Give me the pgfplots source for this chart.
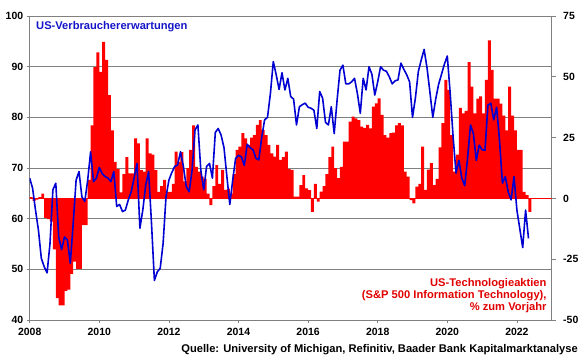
\documentclass[border=0pt]{standalone}
\usepackage{fontspec}
\setmainfont{Liberation Sans}
\usepackage{pgfplots}
\usepackage{pgfplotstable}
\pgfplotsset{compat=1.18}
\definecolor{lineblue}{RGB}{0,0,210}
\definecolor{titleblue}{RGB}{20,20,200}
\definecolor{barred}{RGB}{255,0,0}
\definecolor{txtred}{RGB}{225,0,0}
\definecolor{gridgray}{RGB}{128,128,128}

\pgfplotstableread{
m v
0 68
1 66
2 61.7
3 57.8
4 52.2
5 50.5
6 49.3
7 55.1
8 65.7
9 67
10 56.4
11 53.9
12 56.4
13 55.8
14 51.2
15 59.1
16 67.6
17 69.3
18 64.3
19 63.4
20 67.6
21 73.2
22 67.3
23 68
24 70.1
25 68.9
26 68.3
27 68
28 67.3
29 69.3
30 62.4
31 62.8
32 61.4
33 61.7
34 63.7
35 65.3
36 68
37 70.9
38 58.1
39 61.7
40 66.6
41 69.3
42 59.1
43 47.8
44 49.5
45 50.2
46 55.1
47 64.3
48 67.6
49 69.1
50 70.3
51 70.6
52 73.2
53 70.3
54 66.3
55 65.3
56 69.6
57 77.5
58 78.5
59 69.6
60 65.7
61 70.3
62 70.9
63 68
64 77
65 77.8
66 76.5
67 74
68 68.3
69 62.8
70 67.6
71 71.9
72 72.5
73 72.2
74 70.5
75 74.7
76 74
77 73.6
78 71.9
79 71.6
80 76
81 79.5
82 80
83 84.7
84 91
85 88.4
86 85.5
87 88.8
88 85.4
89 87.7
90 84.1
91 83.6
92 78.5
93 82.1
94 82.5
95 82.8
96 82
97 81.8
98 81.4
99 77.8
100 85.1
101 83.8
102 79
103 78.5
104 82.1
105 76.8
106 83.4
107 89.3
108 90.3
109 86.6
110 86.6
111 87
112 87.7
113 84.7
114 80.8
115 87.7
116 85.4
117 90
118 88.5
119 84.4
120 87
121 90
122 89.3
123 89.1
124 88
125 86.6
126 87.2
127 87.4
128 90.7
129 89.5
130 88.4
131 87
132 80
133 83.8
134 89
135 91.3
136 93.4
137 89.8
138 85
139 80
140 83.6
141 86.5
142 88.5
143 90.5
144 92.1
145 84.7
146 76.2
147 69
148 71.5
149 68
150 66.5
151 72
152 78.5
153 76.8
154 71.5
155 74.5
156 73.6
157 73.5
158 82.4
159 82.8
160 79.5
161 82
162 75.5
163 67
164 68.3
165 65.3
166 63.7
167 68.3
168 61.7
169 58
170 54.3
171 61.7
172 56.1
}\expect

\pgfplotstableread{
m v
0 0.5
1 -1
2 -0.5
3 0.5
4 2
5 -8
6 -8.5
7 -9.5
8 -21
9 -41
10 -44
11 -44
12 -38
13 -37.5
14 -31
15 -26
16 -29
17 -29
18 -11
19 -11
20 7.6
21 30
22 54
23 60
24 52
25 64.4
26 57
27 42.5
28 28
29 15
30 12
31 2.5
32 10
33 17
34 10.3
35 10.3
36 24.7
37 22.6
38 11.6
39 11
40 24.7
41 18.5
42 18
43 11.6
44 2.7
45 5
46 7.6
47 2.7
48 2.7
49 6
50 19.2
51 15
52 19
53 7
54 12.4
55 20
56 30
57 13
58 11
59 9
60 8
61 2
62 -2.8
63 5
64 13.7
65 6
66 11.7
67 3.5
68 4
69 2
70 10
71 20
72 21.3
73 26.8
74 24.7
75 22
76 25
77 26
78 30.2
79 32.2
80 28.1
81 26
82 22
83 18.5
84 17.2
85 22
86 15.8
87 17
88 19.2
89 12
90 11.7
91 0.7
92 0.7
93 5.5
94 9.6
95 4.1
96 3.4
97 -5.5
98 6
99 -1.3
100 2.8
101 5
102 10
103 17
104 21.3
105 12.4
106 8.3
107 13
108 23.3
109 23.3
110 31.6
111 33.6
112 32.9
113 32.2
114 29.5
115 29
116 30.2
117 28.8
118 37.7
119 39.1
120 41.1
121 34.3
122 26
123 25
124 26.8
125 27
126 30
127 31
128 30
129 11
130 9
131 -0.7
132 -2
133 4.8
134 6
135 21.3
136 3.5
137 11.8
138 14.5
139 5.5
140 8
141 21
142 31
143 48.7
144 44.6
145 26
146 11
147 18
148 37.2
149 35
150 36
151 56
152 46
153 35
154 41
155 42
156 35
157 48.7
158 65
159 52.8
160 41
161 41
162 39
163 34
164 28
165 46
166 34
167 28
168 20
169 20
170 2.7
171 1.3
172 -5.5
}\tech

\pgfplotsset{
  base/.style={
    scale only axis, width=522bp, height=304bp,
    xmin=0, xmax=180,
    ticklabel style={font=\bfseries\fontsize{10.5}{12}\selectfont},
    tick align=outside, major tick length=3bp,
    tick style={gridgray, line width=0.6pt},
    axis line style={gridgray, line width=0.8pt},
  }
}
\tikzset{lbl/.style={inner sep=0pt, font=\bfseries\fontsize{11.2}{13}\selectfont}}

\begin{document}
\begin{tikzpicture}
\path[use as bounding box] (-29.7bp,-39bp) rectangle (550.3bp,320bp);

% left axis with grid
\begin{axis}[base,
  ymin=40, ymax=100,
  axis y line*=left, axis x line*=bottom,
  xtick={0,24,...,168},
  xticklabels={2008,2010,2012,2014,2016,2018,2020,2022},
  ytick={40,50,...,100},
  yticklabels={40,50,60,70,80,90,100},
  ymajorgrids, grid style={gridgray, line width=0.8pt},
  xticklabel style={yshift=-1.5bp},
]
\end{axis}

% right axis with bars
\begin{axis}[base,
  ymin=-50, ymax=75,
  axis y line*=right, axis x line=none,
  ytick={-50,-25,...,75},
  yticklabels={-50,-25,0,25,50,75},
  major tick length=4bp,
  yticklabel style={xshift=4bp},
]
\addplot[ybar, bar width=2.95bp, bar shift=0pt, fill=barred, draw=none]
  table[x expr=\thisrow{m}+0.5, y=v] {\tech};
\addplot[barred, line width=1.3pt] coordinates {(0,0) (180,0)};
\end{axis}

% blue line
\begin{axis}[base, ymin=40, ymax=100, hide axis]
\addplot[lineblue, line width=1.6pt, line join=round] table[x=m, y=v] {\expect};
\end{axis}

\node[lbl, anchor=base west, text=titleblue] at (6.3bp,290.7bp) {US-Verbrauchererwartungen};
\node[lbl, anchor=base east, text=txtred] at (517bp,33.1bp) {US-Technologieaktien};
\node[lbl, anchor=base east, text=txtred] at (517bp,21.2bp) {(S\&P 500 Information Technology),};
\node[lbl, anchor=base east, text=txtred] at (517bp,9.2bp) {\% zum Vorjahr};
\node[lbl, anchor=base east, text=black] at (548.3bp,-32bp) {Quelle: University of Michigan, Refinitiv, Baader Bank Kapitalmarktanalyse};
\end{tikzpicture}
\end{document}
